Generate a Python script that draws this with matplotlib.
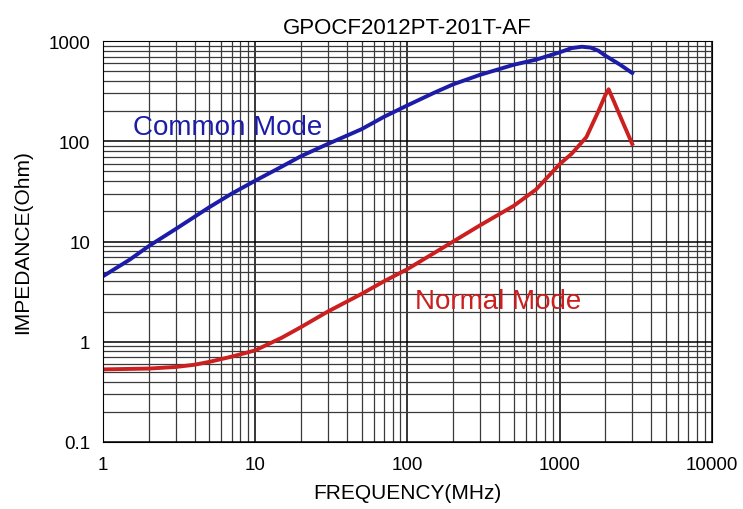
import matplotlib.pyplot as plt
import numpy as np

plt.rcParams['font.family'] = ['Liberation Sans', 'DejaVu Sans']

# Common mode impedance
freq_cm = [1, 1.5, 2, 3, 5, 7, 10, 15, 20, 30, 50, 70, 100, 150, 200, 300, 500, 700,
           1000, 1200, 1400, 1600, 1800, 2000, 2500, 3000]
z_cm = [4.5, 6.6, 9.0, 13.3, 22, 30, 40.4, 56, 71, 94, 132, 175, 228, 305, 370, 460, 580, 652,
        771, 850, 877, 860, 800, 714, 580, 480]

# Normal mode impedance
freq_nm = [1, 2, 3, 4, 5, 7, 10, 15, 20, 30, 50, 70, 100, 200, 300, 500, 700,
           1000, 1200, 1500, 1800, 2000, 2100, 2300, 2600, 3000]
z_nm = [0.53, 0.54, 0.56, 0.59, 0.63, 0.71, 0.82, 1.1, 1.4, 2.0, 3.0, 4.0, 5.3, 10, 14.5, 22.7, 33,
        59, 75, 110, 200, 290, 330, 240, 155, 94]

fig = plt.figure(figsize=(7.43, 5.10), dpi=100)
ax = fig.add_axes([0.1386, 0.1314, 0.8194, 0.7862])

ax.plot(freq_cm, z_cm, color='#1c1ca8', lw=2.8, solid_joinstyle='round')
ax.plot(freq_nm, z_nm, color='#cc2020', lw=2.8, solid_joinstyle='round')

ax.set_xscale('log')
ax.set_yscale('log')
ax.set_xlim(1, 10000)
ax.set_ylim(0.1, 1000)
ax.grid(True, which='major', color='black', lw=1.1)
ax.grid(True, which='minor', color='#3a3a3a', lw=0.9)
ax.tick_params(which='both', length=0, labelsize=13.5)
ax.tick_params(axis='x', pad=10)
ax.tick_params(axis='y', pad=9)
ax.set_xticks([1, 10, 100, 1000, 10000])
ax.set_xticklabels(['1', '10', '100', '1000', '10000'])
ax.set_yticks([0.1, 1, 10, 100, 1000])
ax.set_yticklabels(['0.1', '1', '10', '100', '1000'])
for s in ax.spines.values():
    s.set_color('black')

ax.set_title('GPOCF2012PT-201T-AF', fontsize=16, pad=6)
ax.set_xlabel('FREQUENCY(MHz)', fontsize=15, labelpad=7)
ax.set_ylabel('IMPEDANCE(Ohm)', fontsize=15, labelpad=12)

ax.text(1.57, 139, 'Common Mode', color='#1c1ca8', fontsize=20, va='center')
ax.text(112, 2.55, 'Normal Mode', color='#cc2020', fontsize=20, va='center')

plt.savefig('out.png', dpi=100)
